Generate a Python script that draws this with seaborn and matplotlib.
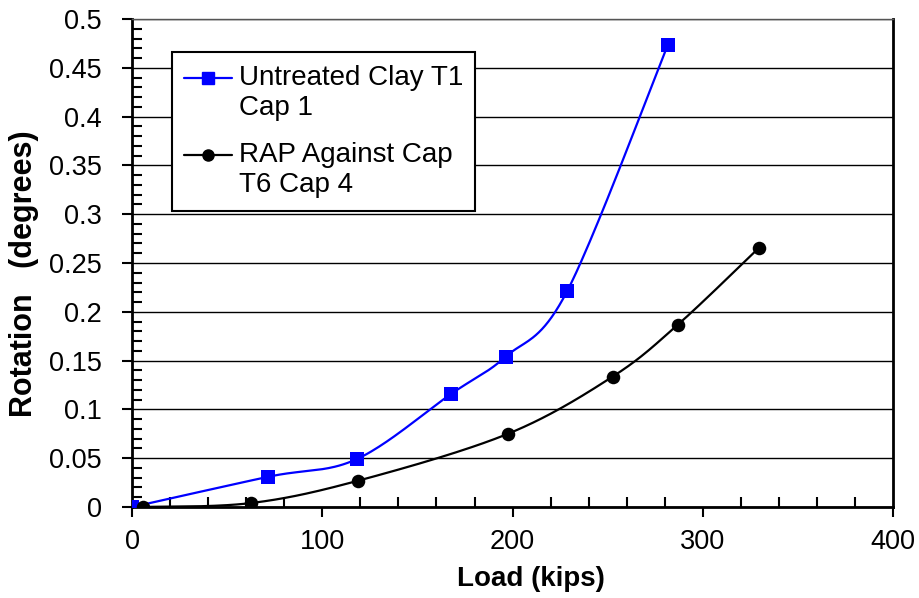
import numpy as np
import pandas as pd
import seaborn as sns
import matplotlib.pyplot as plt
from matplotlib.lines import Line2D
from matplotlib.legend_handler import HandlerLine2D
from matplotlib.ticker import MultipleLocator

# values
untreated_load = [0, 71.6, 118, 167.8, 196.4, 228.7, 281.6]
untreated_rot = [0, 0.031, 0.049, 0.116, 0.154, 0.221, 0.473]
rap_load = [5.8, 62.3, 118.9, 197.6, 252.6, 286.8, 329.6]
rap_rot = [0, 0.004, 0.027, 0.075, 0.1335, 0.1865, 0.2655]

labels = ["Untreated Clay T1\nCap 1", "RAP Against Cap\nT6 Cap 4"]
colors = ["#0000ff", "black"]
markers = ["s", "o"]


def smooth(xs, ys, n=40):
    # Excel-style smoothed line (Bezier through the points)
    p = np.column_stack([xs, ys]).astype(float)
    p = np.vstack([p[0], p, p[-1]])
    t = np.linspace(0, 1, n)[:, None]
    segs = []
    for i in range(1, len(p) - 2):
        p0, p1, p2, p3 = p[i - 1], p[i], p[i + 1], p[i + 2]
        b1 = p1 + (p2 - p0) / 6
        b2 = p2 - (p3 - p1) / 6
        segs.append((1 - t) ** 3 * p1 + 3 * (1 - t) ** 2 * t * b1
                    + 3 * (1 - t) * t ** 2 * b2 + t ** 3 * p2)
    return np.vstack(segs)


class FirstLineHandler(HandlerLine2D):
    # put the legend sample next to the first line of a two-line label
    def create_artists(self, legend, orig_handle, xdescent, ydescent,
                       width, height, fontsize, trans):
        arts = super().create_artists(legend, orig_handle, xdescent, ydescent,
                                      width, height, fontsize, trans)
        for a in arts:
            a.set_ydata(np.asarray(a.get_ydata()) + 0.55 * fontsize)
        return arts


sns.set_style("white")
plt.rcParams["font.family"] = ["Liberation Sans", "DejaVu Sans"]
plt.rcParams["text.color"] = "black"
plt.rcParams["axes.labelcolor"] = "black"

fig = plt.figure(figsize=(9.19, 5.98), dpi=100)
ax = fig.add_axes([0.144, 0.1522, 0.8274, 0.816])

series = [(untreated_load, untreated_rot), (rap_load, rap_rot)]
for (xs, ys), col, mk in zip(series, colors, markers):
    curve = smooth(xs, ys)
    sns.lineplot(x=curve[:, 0], y=curve[:, 1], sort=False, estimator=None,
                 color=col, lw=1.6, ax=ax, zorder=3)
    pts = pd.DataFrame({"load": xs, "rot": ys})
    sns.scatterplot(data=pts, x="load", y="rot", marker=mk, color=col,
                    s=95, edgecolor=col, linewidth=0, ax=ax, zorder=4)

ax.set_xlim(0, 400)
ax.set_ylim(0, 0.5)
ax.xaxis.set_major_locator(MultipleLocator(100))
ax.xaxis.set_minor_locator(MultipleLocator(20))
ax.yaxis.set_minor_locator(MultipleLocator(0.01))
ax.set_yticks(np.arange(0, 0.51, 0.05))
ax.set_yticklabels(["0", "0.05", "0.1", "0.15", "0.2", "0.25", "0.3",
                    "0.35", "0.4", "0.45", "0.5"])

ax.yaxis.grid(True, color="black", lw=1)
ax.xaxis.grid(False)

ax.tick_params(axis="both", which="major", direction="out", length=7,
               width=1.5, color="black", labelsize=19.5, labelcolor="black")
ax.tick_params(axis="y", which="major", pad=15)
ax.tick_params(axis="x", which="major", pad=9)
ax.tick_params(axis="both", which="minor", direction="in", length=7,
               width=1.5, color="black")
ax.tick_params(bottom=True, left=True, which="both")

for side in ["left", "bottom", "right"]:
    ax.spines[side].set_color("black")
    ax.spines[side].set_linewidth(2)
ax.spines["top"].set_color("#555555")
ax.spines["top"].set_linewidth(1)

ax.set_xlabel("Load (kips)", fontsize=20, fontweight="bold", color="black")
ax.set_ylabel("Rotation   (degrees)", fontsize=22, fontweight="bold",
              color="black")
ax.xaxis.set_label_coords(0.524, -0.12)
ax.yaxis.set_label_coords(-0.123, 0.478)

handles = [Line2D([0], [0], color=c, marker=m, markersize=8, lw=1.6)
           for c, m in zip(colors, markers)]
leg = ax.legend(handles, labels, loc="upper left",
                bbox_to_anchor=(0.052, 0.932), borderaxespad=0,
                fontsize=20, frameon=True, fancybox=False, framealpha=1,
                edgecolor="black", handlelength=1.7, handletextpad=0.25,
                labelspacing=0.78, borderpad=0.45,
                handler_map={Line2D: FirstLineHandler()})
leg.get_frame().set_linewidth(1.5)
for txt in leg.get_texts():
    txt.set_color("black")

plt.savefig("out.png", dpi=100)
